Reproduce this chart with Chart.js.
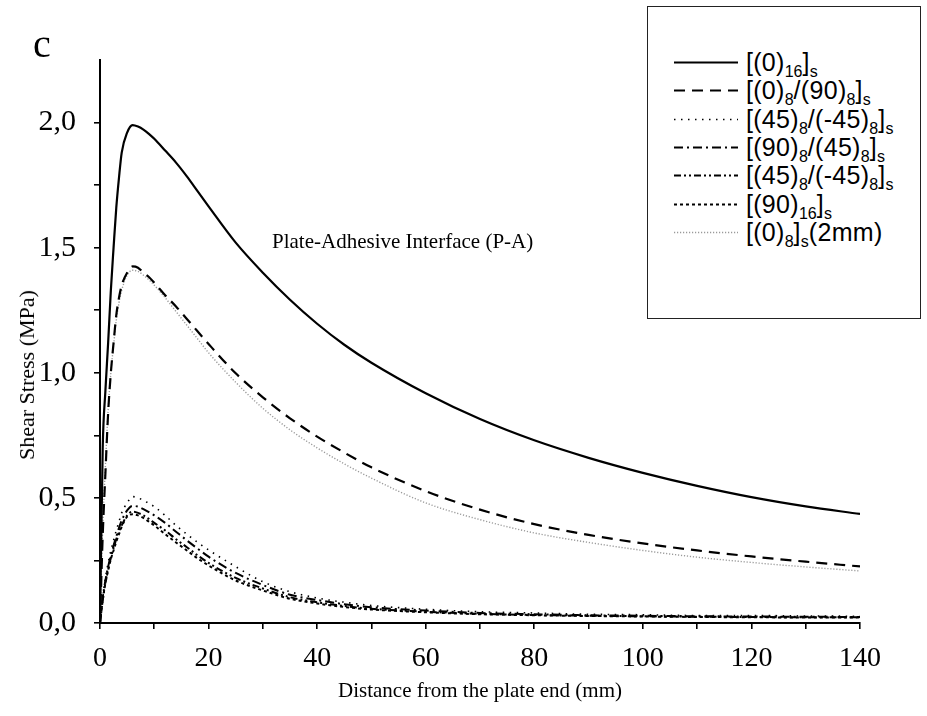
<!DOCTYPE html>
<html>
<head>
<meta charset="utf-8">
<script src="https://cdn.jsdelivr.net/npm/chart.js@4.4.1/dist/chart.umd.min.js"></script>
<style>
  html, body { margin:0; padding:0; background:#fff; }
  #wrap { position:relative; width:927px; height:716px; overflow:hidden; }
  #c { position:absolute; left:0; top:0; }
  .serif { font-family:"Liberation Serif","Times New Roman",serif; color:#000; position:absolute; white-space:nowrap; }
  #legend { position:absolute; left:647px; top:6px; width:272px; height:311px; border:1.5px solid #222; background:#fff;
            font-family:"Liberation Sans",Arial,sans-serif; color:#000; }
  .row { position:absolute; left:0; height:28px; }
  .row svg { position:absolute; left:26px; top:0; }
  .row .txt { position:absolute; left:98px; top:-6px; font-size:25px; letter-spacing:0.3px; line-height:28px; white-space:nowrap; }
  .row .txt sub { font-size:16px; vertical-align:-6px; line-height:0; letter-spacing:0; }
</style>
</head>
<body>
<div id="wrap">
  <canvas id="c" width="927" height="716"></canvas>
  <div class="serif" id="panel" style="left:33px; top:24px; font-size:40px; line-height:40px;">c</div>
  <div class="serif" id="note" style="left:272px; top:229px; font-size:21px; line-height:24px;">Plate-Adhesive Interface (P-A)</div>
  <div class="serif" id="ytitle" style="left:27px; top:375px; font-size:22px; line-height:24px; transform:translate(-50%,-50%) rotate(-90deg);">Shear Stress (MPa)</div>
  <div id="legend"></div>
</div>
<script>
// ---- data ----
const distance = [0,0.5,1,1.5,2,2.5,3,3.5,4,5,6,7,8,9,10,12,14,16,18,20,25,30,35,40,45,50,60,70,80,90,100,110,120,130,140];
const s0_16     = [0,0.70,0.93,1.12,1.33,1.50,1.66,1.78,1.88,1.96,1.99,1.984,1.972,1.955,1.935,1.888,1.84,1.785,1.725,1.665,1.52,1.40,1.292,1.196,1.112,1.04,0.918,0.815,0.73,0.66,0.60,0.548,0.503,0.466,0.436];
const s0_90     = [0,0.35,0.60,0.84,1.00,1.12,1.23,1.30,1.35,1.40,1.425,1.42,1.40,1.383,1.36,1.31,1.265,1.215,1.165,1.115,0.998,0.902,0.818,0.745,0.681,0.622,0.527,0.453,0.395,0.352,0.318,0.29,0.266,0.245,0.226];
const s45_m45a  = [0,0.10,0.18,0.24,0.29,0.33,0.37,0.405,0.44,0.48,0.505,0.50,0.49,0.478,0.465,0.43,0.39,0.355,0.322,0.292,0.225,0.165,0.125,0.10,0.083,0.07,0.055,0.045,0.04,0.035,0.033,0.03,0.03,0.028,0.027];
const s90_45    = [0,0.10,0.17,0.225,0.27,0.31,0.345,0.38,0.41,0.45,0.468,0.465,0.455,0.443,0.43,0.40,0.365,0.33,0.297,0.265,0.20,0.152,0.113,0.092,0.075,0.063,0.05,0.04,0.035,0.031,0.029,0.027,0.026,0.025,0.024];
const s45_m45b  = [0,0.09,0.16,0.215,0.26,0.30,0.335,0.365,0.39,0.43,0.445,0.44,0.43,0.416,0.40,0.37,0.335,0.303,0.27,0.24,0.18,0.138,0.103,0.083,0.068,0.057,0.045,0.037,0.032,0.029,0.027,0.025,0.024,0.023,0.023];
const s90_16    = [0,0.09,0.16,0.21,0.255,0.29,0.325,0.355,0.385,0.425,0.435,0.43,0.42,0.405,0.39,0.355,0.322,0.29,0.258,0.23,0.17,0.13,0.097,0.078,0.064,0.054,0.043,0.035,0.031,0.028,0.026,0.024,0.023,0.022,0.022];
const s0_2mm    = [0,0.38,0.63,0.85,1.00,1.11,1.21,1.28,1.33,1.39,1.41,1.405,1.39,1.372,1.35,1.30,1.245,1.19,1.135,1.08,0.962,0.858,0.772,0.70,0.636,0.579,0.48,0.413,0.36,0.322,0.29,0.263,0.242,0.224,0.208];

const seriesNames = ["[(0)_{16}]_{s}","[(0)_{8}/(90)_{8}]_{s}","[(45)_{8}/(-45)_{8}]_{s}","[(90)_{8}/(45)_{8}]_{s}","[(45)_{8}/(-45)_{8}]_{s}","[(90)_{16}]_{s}","[(0)_{8}]_{s}(2mm)"];
const seriesValues = [s0_16, s0_90, s45_m45a, s90_45, s45_m45b, s90_16, s0_2mm];
const xTickLabels = [0,20,40,60,80,100,120,140];
const yTickLabels = [0,0.5,1.0,1.5,2.0];

// ---- styles ----
const styles = [
  {color:'#000', width:2.2, dash:[]},
  {color:'#000', width:2.2, dash:[11,7]},
  {color:'#000', width:1.6, dash:[1.5,5.5]},
  {color:'#000', width:2, dash:[9,4,2,4]},
  {color:'#000', width:2, dash:[7,3,2,3,2,3]},
  {color:'#000', width:2, dash:[3,3]},
  {color:'#9a9a9a', width:1.4, dash:[1.2,1.8]}
];

const datasets = seriesValues.map((vals, i) => ({
  label: seriesNames[i].replace(/[_{}]/g,''),
  data: distance.map((d, k) => ({x: d, y: vals[k]})),
  borderColor: styles[i].color,
  borderWidth: styles[i].width,
  borderDash: styles[i].dash,
  pointRadius: 0,
  fill: false,
  cubicInterpolationMode: 'monotone'
}));

const serif = "'Liberation Serif','Times New Roman',serif";

new Chart(document.getElementById('c'), {
  type: 'line',
  data: { datasets },
  options: {
    responsive: false,
    animation: false,
    devicePixelRatio: 1,
    layout: { padding: { left: 0, right: 67, top: 60, bottom: 0 } },
    plugins: { legend: { display: false }, tooltip: { enabled: false } },
    scales: {
      x: {
        type: 'linear', min: 0, max: 140,
        afterFit: s => { s.height = 93; },
        border: { display: true, color: '#000', width: 2 },
        grid: { drawOnChartArea: false, drawTicks: true, tickLength: 6, color: '#000', lineWidth: 1.6 },
        ticks: {
          stepSize: 10, autoSkip: false, maxRotation: 0, padding: 13, color: '#000',
          font: { family: serif, size: 28 },
          callback: v => xTickLabels.includes(v) ? String(v) : ''
        },
        title: { display: true, text: 'Distance from the plate end (mm)', color: '#000',
                 font: { family: serif, size: 21 }, padding: { top: 0, bottom: 12 } }
      },
      y: {
        type: 'linear', min: 0, max: 2.25,
        afterFit: s => { s.width = 100; },
        border: { display: true, color: '#000', width: 2 },
        grid: { drawOnChartArea: false, drawTicks: true, tickLength: 6, color: '#000', lineWidth: 1.6 },
        ticks: {
          stepSize: 0.25, autoSkip: false, padding: 18, color: '#000',
          font: { family: serif, size: 30 },
          callback: v => {
            if (Math.abs(v - 2.25) < 1e-6) return null;
            return yTickLabels.some(t => Math.abs(t - v) < 1e-6) ? v.toFixed(1).replace('.', ',') : '';
          }
        },
        title: { display: false }
      }
    }
  }
});

// ---- legend (HTML, with subscripts) ----
function toHTML(s) { return s.replace(/_\{([^}]*)\}/g, '<sub>$1</sub>'); }
const legend = document.getElementById('legend');
seriesNames.forEach((name, i) => {
  const row = document.createElement('div');
  row.className = 'row';
  row.style.top = (47 + i * 28.3) + 'px';
  const st = styles[i];
  row.innerHTML = '<svg width="66" height="20"><line x1="0" y1="8.5" x2="64" y2="8.5" stroke="' + st.color +
    '" stroke-width="' + st.width + '" stroke-dasharray="' + (st.dash.length ? st.dash.join(',') : 'none') + '"/></svg>' +
    '<span class="txt">' + toHTML(name) + '</span>';
  legend.appendChild(row);
});
</script>
</body>
</html>
